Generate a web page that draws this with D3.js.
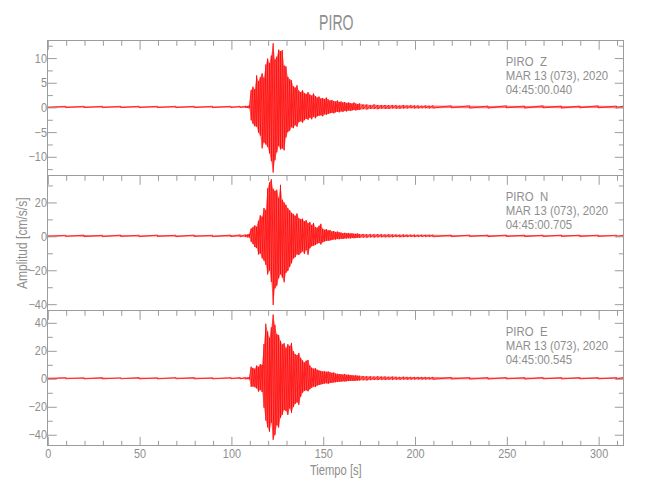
<!DOCTYPE html>
<html><head><meta charset="utf-8">
<script src="https://cdn.jsdelivr.net/npm/d3@7"></script>
<style>
html,body{margin:0;padding:0;background:#fff;}
svg{display:block;}
text{font-family:'Liberation Sans',Arial,sans-serif;fill:#8e8e8e;}
</style></head>
<body>
<svg id="chart" width="650" height="500"></svg>
<script>
// ---------- DATA ----------
const stationName = "PIRO";
const components = ["Z", "N", "E"];
const dateLabel = "MAR 13 (073), 2020";
const startTimes = ["04:45:00.040", "04:45:00.705", "04:45:00.545"];
const xLabel = "Tiempo [s]";
const yLabel = "Amplitud [cm/s/s]";
const xMax = 313.7;
const xMajorTicks = [0, 50, 100, 150, 200, 250, 300];
const xMinorTicks = [10,20,30,40,60,70,80,90,110,120,130,140,160,170,180,190,210,220,230,240,260,270,280,290,310];
const yLimits = [[-13.85, 13.5], [-43.9, 35.7], [-47.9, 48.6]];
const yMajorTicks = [[-10, -5, 0, 5, 10], [-40, -20, 0, 20], [-40, -20, 0, 20, 40]];
const yMinorTicks = [[-12.5, -7.5, -2.5, 2.5, 7.5, 12.5], [-30, -10, 10, 30], [-30, -10, 10, 30]];

// sample times (s) of the min/max envelope bins
const timeSec = [0,10,20,30,40,50,60,70,80,90,100,105,108,
 109,110,111,112,113,114,115,116,117,118,119,120,121,122,123,124,125,126,127,128,129,130,
 131,132,133,134,135,136,137,138,139,140,141,142,143,144,145,146,147,148,149,150,
 151,152,153,154,155,156,157,158,159,160,161,162,163,164,165,166,167,168,169,170,
 172,174,176,178,180,182,184,186,188,190,192,194,196,198,200,202,204,206,208,210,
 220,230,240,250,260,270,280,290,300,310,313.7];

// Z component: max / min per bin
const zMax = [0.15,0.15,0.15,0.15,0.15,0.15,0.15,0.15,0.15,0.15,0.15,0.15,0.2,
 0.2,0.3,3.4,4.1,3.6,6.4,5.2,6.0,6.8,5.9,8.6,9.8,8.9,10.4,12.9,9.6,10.2,11.6,11.3,11.5,
 8.4,8.2,6.1,5.6,5.4,4.2,3.9,4.4,3.3,3.0,3.4,2.8,2.6,3.0,2.5,2.3,2.7,2.2,1.9,2.1,
 1.7,1.8,1.6,1.9,1.5,1.3,1.4,1.2,1.1,1.3,1.0,1.1,0.9,1.0,0.8,0.9,0.8,0.7,0.9,0.7,0.6,0.7,
 0.5,0.5,0.4,0.5,0.4,0.4,0.4,0.35,0.4,0.35,0.3,0.4,0.3,0.35,0.3,0.3,0.25,0.3,0.25,0.3,
 0.25,0.25,0.2,0.25,0.2,0.25,0.2,0.2,0.25,0.2,0.2];
const zMin = [-0.15,-0.15,-0.15,-0.15,-0.15,-0.15,-0.15,-0.15,-0.15,-0.15,-0.15,-0.15,-0.2,
 -0.2,-0.3,-2.7,-3.4,-3.9,-4.0,-5.2,-5.8,-8.4,-7.2,-7.6,-8.1,-9.4,-11.0,-13.3,-10.8,-9.2,-7.9,-8.6,-8.4,
 -8.8,-6.2,-5.1,-4.8,-4.1,-4.3,-3.7,-4.0,-3.1,-2.9,-3.2,-2.7,-2.4,-2.6,-2.2,-2.5,-2.0,-2.3,-1.9,-1.8,
 -1.7,-1.9,-1.5,-1.6,-1.4,-1.3,-1.2,-1.3,-1.1,-1.0,-1.1,-0.9,-1.0,-0.8,-0.9,-0.7,-0.8,-0.7,-0.6,-0.7,-0.6,-0.6,
 -0.45,-0.5,-0.4,-0.4,-0.45,-0.35,-0.4,-0.4,-0.3,-0.35,-0.35,-0.3,-0.3,-0.25,-0.3,-0.3,-0.25,-0.25,-0.3,-0.25,
 -0.2,-0.25,-0.25,-0.2,-0.25,-0.2,-0.25,-0.2,-0.2,-0.25,-0.2];

// N component
const nMax = [0.5,0.4,0.5,0.4,0.5,0.4,0.5,0.4,0.5,0.4,0.5,0.6,0.7,
 0.8,1.2,4.3,5.1,6.2,5.4,8.9,12.1,11.3,16.4,15.2,28.0,31.5,33.4,27.8,26.5,27.2,22.4,30.1,21.3,
 19.6,18.2,16.3,15.1,13.6,12.9,11.8,13.2,10.4,9.8,10.1,8.6,9.2,7.5,8.1,6.4,7.6,5.2,4.8,5.9,
 7.1,4.2,3.6,3.9,3.2,3.4,2.6,2.8,2.3,2.5,2.1,1.9,1.6,1.8,1.5,1.7,1.4,1.5,1.3,1.2,1.4,1.1,
 1.1,1.0,1.0,0.9,1.0,0.9,0.8,0.9,0.8,0.8,0.7,0.8,0.7,0.7,0.7,0.6,0.7,0.6,0.6,0.6,
 0.5,0.5,0.45,0.5,0.45,0.45,0.5,0.45,0.45,0.4,0.4];
const nMin = [-0.5,-0.4,-0.5,-0.5,-0.4,-0.5,-0.4,-0.5,-0.4,-0.5,-0.5,-0.6,-0.7,
 -0.9,-1.0,-3.5,-4.8,-6.6,-7.2,-11.0,-10.4,-13.2,-14.6,-17.1,-22.8,-20.4,-27.2,-40.8,-31.0,-29.4,-25.1,-22.7,-24.6,
 -27.4,-21.8,-20.7,-18.4,-16.2,-13.4,-12.6,-10.9,-11.3,-10.2,-9.1,-10.7,-8.4,-11.2,-7.3,-6.2,-5.8,-5.4,-4.6,-4.2,
 -5.1,-3.8,-3.3,-3.0,-2.9,-2.7,-2.4,-2.1,-2.2,-1.9,-2.0,-1.7,-1.8,-1.5,-1.6,-1.4,-1.5,-1.3,-1.4,-1.2,-1.1,-1.2,
 -1.0,-1.1,-0.9,-1.0,-0.9,-0.8,-0.9,-0.8,-0.8,-0.7,-0.8,-0.7,-0.7,-0.6,-0.7,-0.6,-0.6,-0.6,-0.5,-0.6,
 -0.5,-0.45,-0.5,-0.45,-0.5,-0.45,-0.4,-0.45,-0.4,-0.45,-0.4];

// E component
const eMax = [0.5,0.5,0.4,0.5,0.4,0.5,0.4,0.5,0.5,0.4,0.5,0.5,0.6,
 0.6,0.9,8.3,7.4,6.8,9.1,8.2,10.1,9.6,24.5,39.0,33.5,29.0,36.4,45.6,38.2,31.5,31.0,26.8,24.2,
 25.1,21.6,24.4,23.1,25.3,19.4,17.2,16.5,18.1,14.6,12.8,11.3,12.6,13.1,9.2,7.6,6.9,7.2,6.1,5.6,
 5.3,4.9,5.1,4.6,4.8,4.3,3.9,4.1,3.4,3.2,3.0,2.9,2.7,3.1,2.5,2.6,2.3,2.2,2.0,2.1,1.9,1.8,
 1.6,1.5,1.4,1.3,1.4,1.2,1.3,1.1,1.2,1.1,1.0,1.1,1.0,1.0,0.9,1.0,0.9,0.9,0.8,0.9,
 0.7,0.6,0.6,0.6,0.55,0.6,0.5,0.55,0.5,0.5,0.5];
const eMin = [-0.5,-0.4,-0.5,-0.5,-0.4,-0.5,-0.5,-0.4,-0.5,-0.5,-0.4,-0.5,-0.6,
 -0.6,-0.8,-6.1,-5.8,-6.4,-7.2,-9.5,-8.4,-9.8,-21.0,-30.2,-35.1,-38.2,-31.8,-44.0,-40.5,-33.6,-35.2,-28.4,-26.1,
 -22.7,-23.4,-26.2,-21.5,-24.8,-20.6,-18.3,-17.2,-19.0,-13.2,-10.4,-9.1,-8.6,-9.3,-7.8,-6.8,-5.9,-6.3,-5.2,-4.8,
 -4.4,-4.1,-3.8,-3.6,-3.9,-3.4,-3.2,-3.0,-2.8,-2.6,-2.5,-2.4,-2.2,-2.3,-2.1,-2.0,-1.9,-1.8,-1.9,-1.7,-1.6,-1.6,
 -1.4,-1.5,-1.3,-1.2,-1.3,-1.1,-1.2,-1.0,-1.1,-1.0,-1.0,-0.9,-1.0,-0.9,-0.9,-0.8,-0.9,-0.8,-0.8,-0.8,
 -0.6,-0.7,-0.6,-0.55,-0.6,-0.5,-0.55,-0.5,-0.5,-0.5,-0.5];

const traceMax = [zMax, nMax, eMax];
const traceMin = [zMin, nMin, eMin];

// ---------- LAYOUT ----------
const axisColor = "#9c9c9c";
const traceColor = "#ff0000";
const left = 47.3, right = 623.3, plotTop = 40.3, plotBottom = 445.3;
const panelH = (plotBottom - plotTop) / 3;

const svg = d3.select("#chart");
const x = d3.scaleLinear().domain([0, xMax]).range([left, right]);

// narrow text helper (reference uses a condensed stroke font)
function label(parent, tx, ty, str, size, sx, anchor, rot) {
  return parent.append("text")
    .attr("transform", `translate(${tx},${ty})${rot ? ` rotate(${rot})` : ""} scale(${sx},1)`)
    .attr("text-anchor", anchor || "start")
    .style("font-size", size + "px")
    .text(str);
}

label(svg, 336.3, 30, stationName, 22, 0.64, "middle");

function styleAxis(g) {
  g.select(".domain").remove();
  g.selectAll(".tick line").attr("stroke", axisColor).attr("stroke-width", 1);
  g.selectAll(".tick text").attr("fill", "#8e8e8e").style("font-size", "12.5px");
}

components.forEach((comp, p) => {
  const top = plotTop + p * panelH, bottom = top + panelH;
  const y = d3.scaleLinear().domain(yLimits[p]).range([bottom, top]);
  const g = svg.append("g");

  // trace envelope (min/max per bin) filled, plus min/max strokes
  g.append("path").datum(timeSec.map((t, i) => [t, traceMin[p][i], traceMax[p][i]]))
    .attr("d", d3.area().x(d => x(d[0])).y0(d => y(d[1])).y1(d => y(d[2])))
    .attr("fill", traceColor).attr("fill-opacity", 0.55).attr("stroke", "none");
  const pts = [];
  timeSec.forEach((t, i) => { pts.push([t, traceMax[p][i]]); pts.push([t, traceMin[p][i]]); });
  g.append("path").datum(pts)
    .attr("d", d3.line().x(d => x(d[0])).y(d => y(d[1])))
    .attr("fill", "none").attr("stroke", traceColor).attr("stroke-width", 0.7);

  // frame
  g.append("rect").attr("x", left + 0.5).attr("y", top + 0.5)
    .attr("width", right - left).attr("height", panelH)
    .attr("fill", "none").attr("stroke", axisColor).attr("stroke-width", 1)
    .attr("shape-rendering", "crispEdges");

  // top ticks (inward)
  g.append("g").attr("transform", `translate(0.5,${top + 0.5})`)
    .call(d3.axisTop(x).tickValues(xMajorTicks).tickSize(-9).tickFormat(""))
    .call(styleAxis);
  g.append("g").attr("transform", `translate(0.5,${top + 0.5})`)
    .call(d3.axisTop(x).tickValues(xMinorTicks).tickSize(-5).tickFormat(""))
    .call(styleAxis);

  // left ticks with labels
  const la = g.append("g").attr("transform", `translate(${left + 0.5},0.5)`)
    .call(d3.axisLeft(y).tickValues(yMajorTicks[p]).tickSize(-9).tickPadding(1).tickFormat(d3.format("d")))
    .call(styleAxis);
  la.selectAll(".tick text").attr("transform", "scale(0.87,1)");
  g.append("g").attr("transform", `translate(${left + 0.5},0.5)`)
    .call(d3.axisLeft(y).tickValues(yMinorTicks[p]).tickSize(-5).tickFormat(""))
    .call(styleAxis);
  // right ticks
  g.append("g").attr("transform", `translate(${right + 0.5},0.5)`)
    .call(d3.axisRight(y).tickValues(yMajorTicks[p]).tickSize(-9).tickFormat(""))
    .call(styleAxis);
  g.append("g").attr("transform", `translate(${right + 0.5},0.5)`)
    .call(d3.axisRight(y).tickValues(yMinorTicks[p]).tickSize(-5).tickFormat(""))
    .call(styleAxis);

  // annotation
  label(g, 505.7, top + 25.3, stationName, 12.5, 0.91);
  label(g, 540, top + 25.3, comp, 12.5, 0.91);
  label(g, 505.7, top + 39.5, dateLabel, 12.5, 0.91);
  label(g, 505.7, top + 53.8, startTimes[p], 12.5, 0.91);

  if (p === components.length - 1) {
    const ba = g.append("g").attr("transform", `translate(0.5,${bottom + 0.5})`)
      .call(d3.axisBottom(x).tickValues(xMajorTicks).tickSize(-9).tickPadding(3.5).tickFormat(d3.format("d")))
      .call(styleAxis);
    ba.selectAll(".tick text").attr("transform", "scale(0.87,1)");
    g.append("g").attr("transform", `translate(0.5,${bottom + 0.5})`)
      .call(d3.axisBottom(x).tickValues(xMinorTicks).tickSize(-5).tickFormat(""))
      .call(styleAxis);
  }
});

label(svg, 335.8, 475, xLabel, 14, 0.8, "middle");
label(svg, 27, 243.3, yLabel, 14, 0.86, "middle", -90);
</script>
</body></html>
